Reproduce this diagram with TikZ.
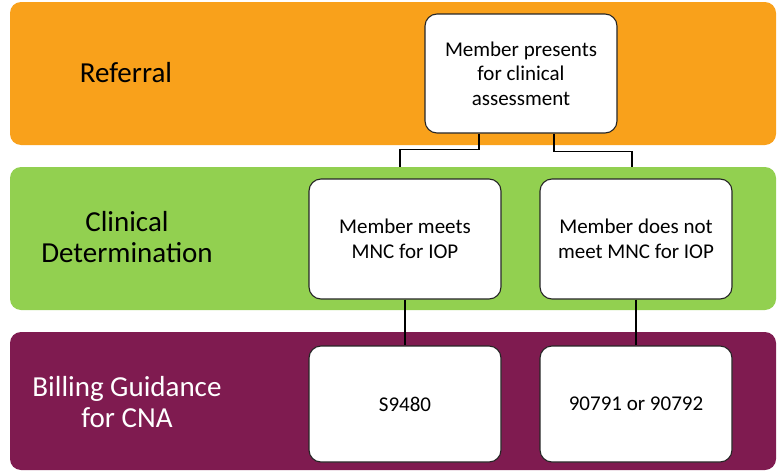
\documentclass[tikz,border=0pt]{standalone}
\usepackage{fontspec}
\setmainfont{Carlito}
\definecolor{bandorange}{HTML}{F9A11B}
\definecolor{bandgreen}{HTML}{92D050}
\definecolor{bandpurple}{HTML}{7F1B50}
\begin{document}
\begin{tikzpicture}[x=1pt,y=-1pt,
  band/.style={draw=none,rounded corners=11pt,minimum width=766pt,inner sep=0pt,anchor=center},
  bandlabel/.style={font=\fontsize{29}{31}\selectfont,align=center,text=black},
  flowbox/.style={draw=black!85,line width=1.1pt,fill=white,rounded corners=12pt,minimum width=192pt,inner sep=2pt,align=center,font=\fontsize{21}{24.5}\selectfont},
  thinlink/.style={draw=black,line width=1.2pt},
  thicklink/.style={draw=black,line width=2.4pt}]
\useasboundingbox (0,0) rectangle (777,471);
% bands
\node[band,fill=bandorange,minimum height=143pt] (b1) at (393,73.5) {};
\node[band,fill=bandgreen,minimum height=143pt] (b2) at (393,238.5) {};
\node[band,fill=bandpurple,minimum height=138pt] (b3) at (393,401) {};
% band labels
\node[bandlabel] (l1) at (126,73) {Referral};
\node[bandlabel] (l2) at (127,237) {Clinical\\Determination};
\node[bandlabel,text=white] (l3) at (127,402) {Billing Guidance\\for CNA};
% boxes
\node[flowbox,minimum height=119pt] (top) at (521,73.5) {Member presents\\for clinical\\assessment};
\node[flowbox,minimum height=120pt] (g1) at (405,239) {Member meets\\MNC for IOP};
\node[flowbox,minimum height=120pt] (g2) at (636,239) {Member does not\\meet MNC for IOP};
\node[flowbox,minimum height=116pt] (p1) at (405,404) {S9480};
\node[flowbox,minimum height=116pt] (p2) at (636,404) {90791 or 90792};
% connectors from top box to the green band
\coordinate (ls) at ([xshift=-42pt]top.south);
\coordinate (rs) at ([xshift=33pt]top.south);
\coordinate (le) at (b2.north -| 400,0);
\coordinate (re) at (b2.north -| 632,0);
\draw[thinlink] (ls) -- ++(0,16) -| (le);
\draw[thinlink] (rs) -- ++(0,18) -| (re);
% connectors green to purple
\draw[thicklink] (g1.south) -- (p1.north);
\draw[thicklink] (g2.south) -- (p2.north);
\end{tikzpicture}
\end{document}
